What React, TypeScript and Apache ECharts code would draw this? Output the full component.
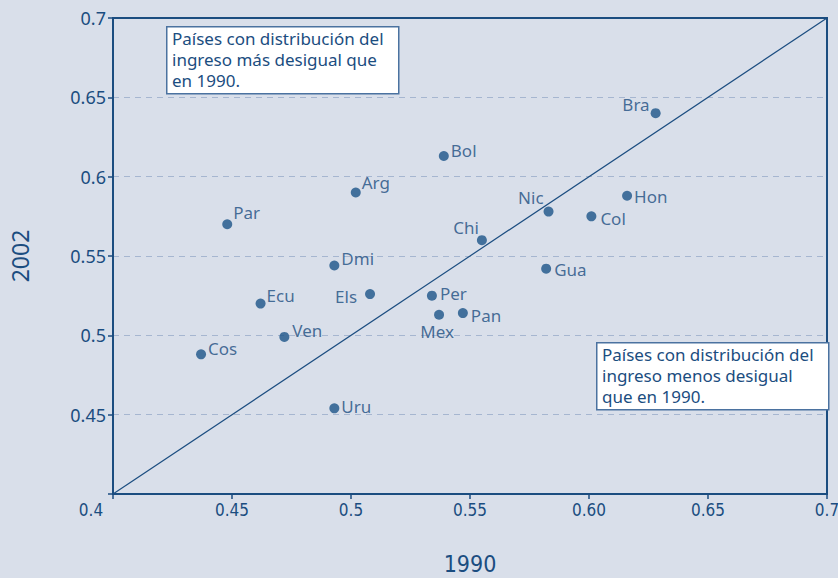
import React, { useEffect, useRef } from "react";
import * as echarts from "echarts";

const countries = ["Bra", "Bol", "Arg", "Par", "Nic", "Hon", "Col", "Chi", "Gua", "Dmi", "Ecu", "Els", "Per", "Mex", "Pan", "Ven", "Cos", "Uru"];
const values1990 = [0.628, 0.539, 0.502, 0.448, 0.583, 0.616, 0.601, 0.555, 0.582, 0.493, 0.462, 0.508, 0.534, 0.537, 0.547, 0.472, 0.437, 0.493];
const values2002 = [0.640, 0.613, 0.590, 0.570, 0.578, 0.588, 0.575, 0.560, 0.542, 0.544, 0.520, 0.526, 0.525, 0.513, 0.514, 0.499, 0.488, 0.454];
const xTickLabels = ["0.4", "0.45", "0.5", "0.55", "0.60", "0.65", "0.7"];
const yTickLabels = ["0.4", "0.45", "0.5", "0.55", "0.6", "0.65", "0.7"];
const noteUpper = "Países con distribución del\ningreso más desigual que\nen 1990.";
const noteLower = "Países con distribución del\ningreso menos desigual\nque en 1990.";

const labelCfg: Record<string, any> = {
  Bra: { position: "left", distance: 1, offset: [0, -9] },
  Bol: { position: "right", distance: 2, offset: [0, -6] },
  Arg: { position: "right", distance: 1, offset: [0, -10] },
  Par: { position: "right", distance: 1, offset: [0, -12] },
  Nic: { position: "left", distance: 0, offset: [0, -14] },
  Hon: { position: "right", distance: 2, offset: [0, 1] },
  Col: { position: "right", distance: 4, offset: [0, 2] },
  Chi: { position: "left", distance: 0, offset: [2, -13] },
  Gua: { position: "right", distance: 3, offset: [0, 1] },
  Dmi: { position: "right", distance: 2, offset: [0, -7] },
  Ecu: { position: "right", distance: 1, offset: [0, -8] },
  Els: { position: "left", distance: 8, offset: [0, 2] },
  Per: { position: "right", distance: 3, offset: [0, -2] },
  Mex: { position: "bottom", distance: 3, offset: [-2, 0] },
  Pan: { position: "right", distance: 3, offset: [0, 2] },
  Ven: { position: "right", distance: 3, offset: [0, -6] },
  Cos: { position: "right", distance: 2, offset: [0, -6] },
  Uru: { position: "right", distance: 2, offset: [0, -2] },
};

const BLUE = "#1b4d80";
const FONT = "'Noto Sans', sans-serif";
const NARROW = "'Liberation Sans Narrow', 'DejaVu Sans Condensed', sans-serif";

export default function App() {
  const ref = useRef<HTMLDivElement>(null);
  useEffect(() => {
    if (!ref.current) return;
    const chart = echarts.init(ref.current, null, { renderer: "svg" });
    const points = countries.map((c, i) => ({
      name: c,
      value: [values1990[i], values2002[i]],
      label: {
        show: true,
        formatter: c,
        color: BLUE,
        fontSize: 17,
        fontFamily: FONT,
        ...labelCfg[c],
      },
    }));
    chart.setOption({
      animation: false,
      backgroundColor: "#d9dfea",
      grid: {
        left: 113, right: 11, top: 18, bottom: 84,
        outerBoundsMode: "none",
        containLabel: false,
        show: true, borderColor: BLUE, borderWidth: 2, backgroundColor: "transparent",
      },
      xAxis: {
        type: "value", min: 0.4, max: 0.7, interval: 0.05,
        axisLine: { show: true, lineStyle: { color: BLUE, width: 2 } },
        axisTick: { show: true, length: 5, lineStyle: { color: BLUE, width: 1.5 } },
        splitLine: { show: false },
        axisLabel: {
          color: BLUE, fontSize: 17, fontFamily: NARROW,
          margin: 7,
          formatter: (v: number) => {
            const idx = Math.round((v - 0.4) / 0.05);
            const t = xTickLabels[idx] ?? "";
            return idx === 0 ? "{a|" + t + "}" : t;
          },
          rich: { a: { padding: [0, 44, 0, 0], color: BLUE, fontSize: 17, fontFamily: NARROW } },
        },
        name: "1990", nameLocation: "middle", nameGap: 58,
        nameTextStyle: { color: BLUE, fontSize: 23, fontFamily: NARROW },
      },
      yAxis: {
        type: "value", min: 0.4, max: 0.7, interval: 0.05,
        axisLine: { show: true, lineStyle: { color: BLUE, width: 2 } },
        axisTick: { show: true, length: 5, lineStyle: { color: BLUE, width: 1.5 } },
        splitLine: { show: true, showMinLine: false, showMaxLine: false, lineStyle: { color: "#a6b6d0", type: [6, 5], width: 1.2 } },
        axisLabel: {
          color: BLUE, fontSize: 18, fontFamily: FONT, margin: 7,
          formatter: (v: number) => {
            const idx = Math.round((v - 0.4) / 0.05);
            return idx === 0 ? "" : yTickLabels[idx] ?? "";
          },
        },
        name: "2002", nameLocation: "middle", nameGap: 82, nameRotate: 90,
        nameTextStyle: { color: BLUE, fontSize: 23, fontFamily: FONT },
      },
      series: [
        {
          type: "line",
          data: [[0.4, 0.4], [0.7, 0.7]],
          symbol: "none",
          lineStyle: { color: BLUE, width: 1.2 },
          silent: true,
          z: 1,
        },
        {
          type: "scatter",
          data: points,
          symbolSize: 10,
          itemStyle: { color: "#1c5488" },
          z: 3,
        },
      ],
      graphic: [
        {
          type: "rect", left: 166, top: 26, shape: { width: 232, height: 67 },
          style: { fill: "#ffffff", stroke: "#4b72a0", lineWidth: 1.5 }, z: 10,
        },
        {
          type: "text", left: 172, top: 28, z: 11,
          style: { text: noteUpper, fill: BLUE, fontSize: 17, fontFamily: FONT, lineHeight: 21 },
        },
        {
          type: "rect", left: 596, top: 342, shape: { width: 232, height: 67 },
          style: { fill: "#ffffff", stroke: "#4b72a0", lineWidth: 1.5 }, z: 10,
        },
        {
          type: "text", left: 602, top: 344, z: 11,
          style: { text: noteLower, fill: BLUE, fontSize: 17, fontFamily: FONT, lineHeight: 21 },
        },
      ],
    });
    return () => chart.dispose();
  }, []);
  return <div ref={ref} style={{ width: 838, height: 578, position: "absolute", left: 0, top: 0 }} />;
}
